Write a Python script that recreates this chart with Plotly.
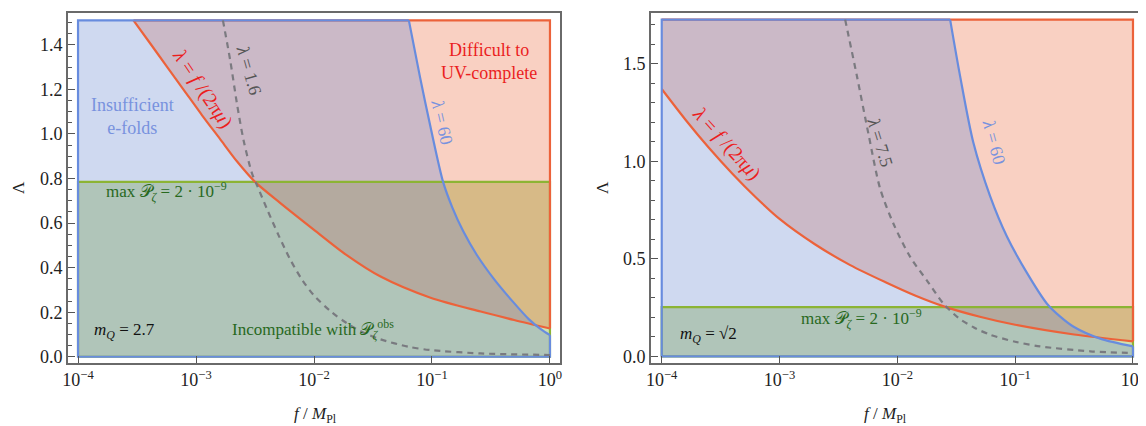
import numpy as np
import plotly.graph_objects as go

# The page body adds an 8px margin, so the figure is made 8px smaller and all
# pixel positions (taken from the 1146x426 reference) are shifted by that offset.
OX, OY = 8, 8
W, H = 1146 - OX, 426 - OY

# ---------------- data: left panel (m_Q = 2.7) ----------------
L_red_logf = [-3.53, -3.40, -3.25, -3.10, -2.95, -2.80, -2.65, -2.50, -2.285, -2.0, -1.72, -1.436, -1.012, -0.587, -0.304, 0.0]
L_red_lam = [1.51, 1.415, 1.305, 1.195, 1.085, 0.98, 0.875, 0.785, 0.69, 0.57, 0.455, 0.36, 0.265, 0.203, 0.165, 0.127]
L_blue_logf = [-1.196, -1.101, -1.012, -0.906, -0.829, -0.736, -0.621, -0.469, -0.324, -0.18, -0.078, 0.0]
L_blue_lam = [1.51, 1.254, 1.03, 0.785, 0.672, 0.564, 0.458, 0.345, 0.253, 0.169, 0.124, 0.097]
L_dash_logf = [-2.772, -2.71, -2.653, -2.597, -2.525, -2.483, -2.40, -2.30, -2.20, -2.10, -2.0, -1.85, -1.72, -1.58, -1.436, -1.2, -1.012, -0.587, 0.0]
L_dash_lam = [1.51, 1.33, 1.136, 0.972, 0.822, 0.77, 0.665, 0.545, 0.435, 0.345, 0.275, 0.20, 0.15, 0.108, 0.078, 0.045, 0.03, 0.015, 0.008]
L_green = 0.785
L_top = 1.51

# ---------------- data: right panel (m_Q = sqrt 2) ----------------
R_red_logf = [-4.0, -3.8, -3.6, -3.4, -3.2, -3.0, -2.7, -2.4, -2.1, -1.85, -1.6, -1.3, -1.0, -0.5, 0.0]
R_red_lam = [1.371, 1.215, 1.07, 0.937, 0.815, 0.705, 0.575, 0.468, 0.38, 0.312, 0.255, 0.203, 0.162, 0.112, 0.077]
R_blue_logf = [-1.552, -1.467, -1.354, -1.212, -1.07, -0.9, -0.73, -0.62, -0.504, -0.278, 0.0]
R_blue_lam = [1.727, 1.436, 1.094, 0.821, 0.615, 0.428, 0.27, 0.205, 0.152, 0.091, 0.051]
R_dash_logf = [-2.443, -2.344, -2.245, -2.146, -2.033, -1.891, -1.75, -1.608, -1.481, -1.35, -1.212, -1.0, -0.787, -0.362, 0.0]
R_dash_lam = [1.727, 1.44, 1.14, 0.86, 0.68, 0.51, 0.39, 0.27, 0.197, 0.148, 0.111, 0.075, 0.051, 0.026, 0.017]
R_green = 0.253
R_top = 1.727

F_MIN, F_MAX = 1e-4, 1.0
x_tickvals = [1e-4, 1e-3, 1e-2, 1e-1, 1.0]
x_ticktext = ["10<sup>−4</sup>", "10<sup>−3</sup>", "10<sup>−2</sup>", "10<sup>−1</sup>", "10<sup>0</sup>"]

# ---------------- styles ----------------
RED_LINE = "rgb(236,98,58)"
BLUE_LINE = "rgb(104,140,222)"
GREEN_LINE = "rgb(140,180,52)"
RED_FILL = "rgba(233,81,29,0.27)"
BLUE_FILL = "rgba(110,140,210,0.33)"
GREEN_FILL = "rgba(140,180,52,0.40)"
FONT = "Liberation Serif, DejaVu Serif, serif"
LW = 2.2

fig = go.Figure()


def line(xa, ya, x, y, color, shape="linear", dash=None):
    fig.add_trace(go.Scatter(x=x, y=y, mode="lines",
                             line=dict(color=color, width=LW, shape=shape, dash=dash, smoothing=0.8),
                             xaxis=xa, yaxis=ya, hoverinfo="skip"))


def fill(xa, ya, x, y, color):
    fig.add_trace(go.Scatter(x=x, y=y, mode="lines", fill="toself", fillcolor=color,
                             line=dict(width=0, color="rgba(0,0,0,0)"),
                             xaxis=xa, yaxis=ya, hoverinfo="skip"))


def add_panel(xa, ya, red_logf, red_lam, blue_logf, blue_lam, dash_logf, dash_lam, green, top):
    red_f = list(10 ** np.array(red_logf))
    blue_f = list(10 ** np.array(blue_logf))
    dash_f = list(10 ** np.array(dash_logf))
    starts_at_edge = red_f[0] <= F_MIN * 1.0001
    # --- fills ---
    fill(xa, ya, [F_MIN, F_MIN, F_MAX, F_MAX, F_MIN], [0, green, green, 0, 0], GREEN_FILL)
    rx = red_f + [F_MAX, F_MAX]
    ry = red_lam + [top, top]
    if starts_at_edge:
        rx += [F_MIN, red_f[0]]
        ry += [top, red_lam[0]]
    else:
        rx += [red_f[0]]
        ry += [top]
    fill(xa, ya, rx, ry, RED_FILL)
    bx = [F_MIN, F_MIN] + blue_f + [F_MAX, F_MIN]
    by = [0, top] + blue_lam + [0, 0]
    fill(xa, ya, bx, by, BLUE_FILL)
    # --- outlines ---
    line(xa, ya, [F_MIN, F_MIN, F_MAX, F_MAX, F_MIN], [0, green, green, 0, 0], GREEN_LINE)
    line(xa, ya, [red_f[-1], F_MAX, (F_MIN if starts_at_edge else red_f[0])],
         [red_lam[-1], top, top], RED_LINE)
    line(xa, ya, red_f, red_lam, RED_LINE, "spline")
    line(xa, ya, [blue_f[0], F_MIN, F_MIN, F_MAX, F_MAX], [top, top, 0, 0, blue_lam[-1]], BLUE_LINE)
    line(xa, ya, blue_f, blue_lam, BLUE_LINE, "spline")
    line(xa, ya, dash_f, dash_lam, "rgba(118,118,124,0.95)", "spline", "6px,5px")


add_panel("x", "y", L_red_logf, L_red_lam, L_blue_logf, L_blue_lam, L_dash_logf, L_dash_lam, L_green, L_top)
add_panel("x2", "y2", R_red_logf, R_red_lam, R_blue_logf, R_blue_lam, R_dash_logf, R_dash_lam, R_green, R_top)

axis_common = dict(showline=True, linecolor="#6a6a6a", linewidth=1.6, mirror=True, ticks="inside",
                   tickcolor="#555", ticklen=7, tickwidth=1.2, showgrid=False, zeroline=False,
                   automargin=False, tickfont=dict(family=FONT, size=18, color="#222"))


def pxx(x):
    return (x - OX) / W


def pxy(y):
    return 1 - (y - OY) / H


ydom = [pxy(363), pxy(13)]
fig.update_layout(
    width=W, height=H, margin=dict(l=0, r=0, t=0, b=0, autoexpand=False),
    paper_bgcolor="white", plot_bgcolor="white", showlegend=False,
    xaxis=dict(type="log", range=[-4.085, 0.085], domain=[pxx(68), pxx(560)], anchor="y",
               tickvals=x_tickvals, ticktext=x_ticktext, **axis_common),
    yaxis=dict(range=[-0.028, 1.543], domain=ydom, anchor="x", tick0=0, dtick=0.2, tickformat=".1f",
               minor=dict(tick0=0, dtick=0.05, ticks="inside", ticklen=4, tickcolor="#555"), **axis_common),
    xaxis2=dict(type="log", range=[-4.091, 0.085], domain=[pxx(651), pxx(1143)], anchor="y2",
                tickvals=x_tickvals, ticktext=x_ticktext, **axis_common),
    yaxis2=dict(range=[-0.034, 1.761], domain=ydom, anchor="x2", tick0=0, dtick=0.5, tickformat=".1f",
                minor=dict(tick0=0, dtick=0.1, ticks="inside", ticklen=4, tickcolor="#555"), **axis_common),
)


def ann(xp, yp, text, color, size=17, angle=0, xanchor="center"):
    fig.add_annotation(x=pxx(xp), y=pxy(yp), xref="paper", yref="paper", text=text, showarrow=False,
                       font=dict(family=FONT, size=size, color=color), textangle=angle,
                       xanchor=xanchor, yanchor="middle")


BLUE_TXT = "rgb(120,146,222)"
RED_TXT = "rgb(235,30,30)"
GREEN_TXT = "rgb(40,105,30)"
GRAY_TXT = "rgb(85,85,85)"
P = "𝒫"

# left panel texts
ann(132, 117, "Insufficient<br>e-folds", BLUE_TXT, 18)
ann(203, 88, "<i>λ</i> = <i>f</i> /(2π<i>μ</i>)", RED_TXT, 20, 56)
ann(249, 70, "<i>λ</i> = 1.6", GRAY_TXT, 18, 74)
ann(489, 61, "Difficult to<br>UV-complete", RED_TXT, 18)
ann(442, 122, "<i>λ</i> = 60", BLUE_TXT, 18, 77)
ann(166, 191, "max " + P + "<sub><i>ζ</i></sub> = 2 · 10<sup>−9</sup>", GREEN_TXT, 17)
ann(125, 331, "<i>m</i><sub><i>Q</i></sub> = 2.7", "#111", 17)
ann(313, 329, "Incompatible with " + P + "<sub><i>ζ</i></sub><sup>obs</sup>", GREEN_TXT, 17)
ann(18, 188, "Λ", "#222", 17, -90)
ann(315, 415, "<i>f</i> / <i>M</i><sub>Pl</sub>", "#222", 17)

# right panel texts
ann(727, 143, "<i>λ</i> = <i>f</i> /(2π<i>μ</i>)", RED_TXT, 20, 48)
ann(880, 142, "<i>λ</i> = 7.5", GRAY_TXT, 18, 73)
ann(994, 142, "<i>λ</i> = 60", BLUE_TXT, 18, 75)
ann(861, 318, "max " + P + "<sub><i>ζ</i></sub> = 2 · 10<sup>−9</sup>", GREEN_TXT, 17)
ann(708, 335, "<i>m</i><sub><i>Q</i></sub> = √2", "#111", 17)
ann(602, 188, "Λ", "#222", 17, -90)
ann(885, 415, "<i>f</i> / <i>M</i><sub>Pl</sub>", "#222", 17)

fig.write_html("out.html")
